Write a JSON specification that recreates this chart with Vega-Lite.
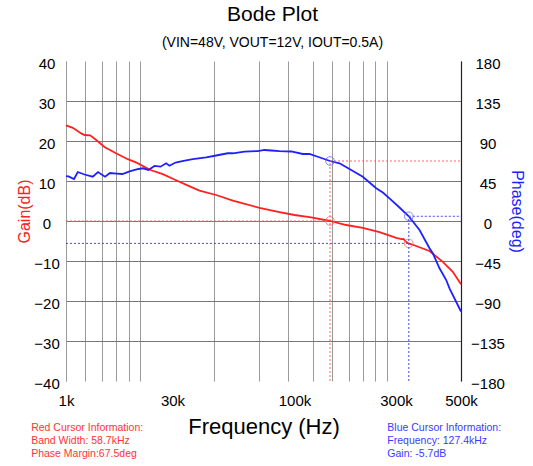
{
  "$schema": "https://vega.github.io/schema/vega-lite/v6.json",
  "width": 395,
  "height": 320,
  "autosize": {"type": "none"},
  "padding": {"left": 66, "top": 61, "right": 72, "bottom": 85},
  "background": "white",
  "config": {"font": "Liberation Sans", "view": {"stroke": null}},
  "title": {
    "text": "Bode Plot",
    "subtitle": "(VIN=48V, VOUT=12V, IOUT=0.5A)",
    "fontSize": 21,
    "fontWeight": "normal",
    "color": "#000",
    "subtitleFontSize": 14,
    "subtitleColor": "#000",
    "subtitlePadding": 11,
    "offset": 7,
    "dx": 9
  },
  "datasets": {
    "gain": [
      {"f": 1000, "gain": 23.9}, {"f": 1113, "gain": 23.3}, {"f": 1270, "gain": 21.9},
      {"f": 1338, "gain": 21.5}, {"f": 1463, "gain": 21.4}, {"f": 1608, "gain": 20.25},
      {"f": 1832, "gain": 18.5}, {"f": 2179, "gain": 17.0}, {"f": 2644, "gain": 15.45},
      {"f": 3032, "gain": 14.6}, {"f": 3779, "gain": 12.75}, {"f": 4585, "gain": 11.7},
      {"f": 5600, "gain": 10.25}, {"f": 6764, "gain": 8.9}, {"f": 8170, "gain": 7.6},
      {"f": 10624, "gain": 6.5}, {"f": 13796, "gain": 5.1}, {"f": 20990, "gain": 3.3},
      {"f": 28760, "gain": 2.2}, {"f": 36410, "gain": 1.5}, {"f": 47360, "gain": 0.9},
      {"f": 63670, "gain": 0.0}, {"f": 82140, "gain": -1.0}, {"f": 106660, "gain": -1.7},
      {"f": 138700, "gain": -2.8}, {"f": 180400, "gain": -4.2}, {"f": 196100, "gain": -4.55},
      {"f": 202300, "gain": -4.5}, {"f": 208800, "gain": -5.1}, {"f": 219900, "gain": -5.6},
      {"f": 247100, "gain": -6.25}, {"f": 304600, "gain": -7.5}, {"f": 375500, "gain": -10.2},
      {"f": 439500, "gain": -12.7}, {"f": 500000, "gain": -15.8}
    ],
    "phase": [
      {"f": 1000, "phase": 50.6}, {"f": 1040, "phase": 50.1}, {"f": 1134, "phase": 47.2},
      {"f": 1204, "phase": 55.1}, {"f": 1338, "phase": 52.3}, {"f": 1524, "phase": 49.8},
      {"f": 1654, "phase": 55.1}, {"f": 1847, "phase": 49.8}, {"f": 1998, "phase": 54.0},
      {"f": 2213, "phase": 53.4}, {"f": 2432, "phase": 52.9}, {"f": 2716, "phase": 55.9},
      {"f": 3129, "phase": 58.5}, {"f": 3358, "phase": 59.3}, {"f": 3662, "phase": 57.4},
      {"f": 4024, "phase": 61.9}, {"f": 4423, "phase": 61.1}, {"f": 4838, "phase": 64.9},
      {"f": 5096, "phase": 62.2}, {"f": 5600, "phase": 65.8}, {"f": 6351, "phase": 67.7},
      {"f": 7352, "phase": 69.5}, {"f": 9077, "phase": 71.7}, {"f": 10624, "phase": 73.7},
      {"f": 12752, "phase": 76.2}, {"f": 13796, "phase": 76.2}, {"f": 16584, "phase": 78.0},
      {"f": 20440, "phase": 78.7}, {"f": 22710, "phase": 79.9}, {"f": 25360, "phase": 79.3},
      {"f": 28760, "phase": 78.7}, {"f": 34570, "phase": 78.2}, {"f": 41500, "phase": 75.4},
      {"f": 46100, "phase": 75.4}, {"f": 52520, "phase": 72.3}, {"f": 63670, "phase": 67.5},
      {"f": 73930, "phase": 64.9}, {"f": 86510, "phase": 58.5}, {"f": 106660, "phase": 49.8},
      {"f": 131680, "phase": 36.8}, {"f": 146100, "phase": 32.1}, {"f": 162300, "phase": 25.5},
      {"f": 190000, "phase": 15.2}, {"f": 219900, "phase": 5.3}, {"f": 260400, "phase": -10.1},
      {"f": 304600, "phase": -30.7}, {"f": 320800, "phase": -36.3}, {"f": 356600, "phase": -53.2},
      {"f": 396200, "phase": -66.4}, {"f": 417200, "phase": -75.7}, {"f": 500000, "phase": -101.8}
    ],
    "cursors": [
      {"name": "red", "f": 63670, "gain": 0, "phase": 67.5,
       "info": ["Red Cursor Information:", "Band Width: 58.7kHz", "Phase Margin:67.5deg"]},
      {"name": "blue", "f": 219900, "gain": -5.6, "phase": 5.3,
       "info": ["Blue Cursor Information:", "Frequency: 127.4kHz", "Gain: -5.7dB"]}
    ],
    "gainCursorLines": [
      {"seg": "redG", "c": "red", "f": 1000, "gain": 0},
      {"seg": "redG", "c": "red", "f": 63670, "gain": 0},
      {"seg": "blueG", "c": "blue", "f": 1000, "gain": -5.6},
      {"seg": "blueG", "c": "blue", "f": 219900, "gain": -5.6}
    ],
    "phaseCursorLines": [
      {"seg": "redV", "c": "red", "f": 63670, "phase": -180},
      {"seg": "redV", "c": "red", "f": 63670, "phase": 67.5},
      {"seg": "redH", "c": "red", "f": 63670, "phase": 67.5},
      {"seg": "redH", "c": "red", "f": 500000, "phase": 67.5},
      {"seg": "blueV", "c": "blue", "f": 219900, "phase": -180},
      {"seg": "blueV", "c": "blue", "f": 219900, "phase": 5.3},
      {"seg": "blueH", "c": "blue", "f": 219900, "phase": 5.3},
      {"seg": "blueH", "c": "blue", "f": 500000, "phase": 5.3}
    ]
  },
  "layer": [
    {
      "layer": [
        {
          "data": {"name": "gain"},
          "mark": {"type": "line", "color": "#ff2020", "strokeWidth": 1.8},
          "encoding": {
            "x": {
              "field": "f", "type": "quantitative",
              "scale": {"type": "log", "domain": [1000, 500000], "nice": false},
              "axis": {
                "title": "Frequency (Hz)", "titleFontSize": 22, "titleFontWeight": "normal",
                "titleColor": "#000", "titlePadding": 8,
                "values": [1000, 1359, 1767, 2203, 2686, 3214, 5342, 10343, 20670, 32770, 36410, 48570, 65900, 85170, 106660, 130200, 155600, 179800, 500000],
                "tickCount": 40,
                "labelExpr": "datum.value < 1100 ? '1k' : (datum.value > 5000 && datum.value < 6000) ? '30k' : (datum.value > 36000 && datum.value < 37000) ? '100k' : (datum.value > 170000 && datum.value < 190000) ? '300k' : datum.value > 400000 ? '500k' : ''",
                "labelFontSize": 15, "labelColor": "#000", "labelPadding": 12,
                "labelFlush": false, "labelOverlap": false,
                "ticks": false, "domain": false,
                "grid": true, "gridColor": "#9a9a9a", "gridWidth": 1,
                "gridOpacity": {"condition": {"test": "(datum.value > 5000 && datum.value < 6000) || (datum.value > 36000 && datum.value < 37000) || (datum.value > 170000 && datum.value < 190000)", "value": 0}, "value": 1}
              }
            },
            "y": {
              "field": "gain", "type": "quantitative",
              "scale": {"domain": [-40, 40], "nice": false, "zero": false},
              "axis": {
                "title": "Gain(dB)", "titleColor": "#ff2020", "titleFontSize": 16,
                "titleFontWeight": "normal", "titleY": 150, "titlePadding": 1,
                "values": [-40, -30, -20, -10, 0, 10, 20, 30, 40],
                "tickCount": 40,
                "labelFontSize": 15, "labelColor": "#000", "labelAlign": "center",
                "labelPadding": 19.5, "labelOffset": 2.5, "labelOverlap": false,
                "ticks": false,
                "domain": true, "domainColor": "#9a9a9a",
                "grid": true, "gridColor": "#777", "gridWidth": 1,
                "gridOpacity": {"condition": {"test": "abs(datum.value) > 35", "value": 0}, "value": 1}
              }
            }
          }
        },
        {
          "data": {"name": "gainCursorLines"},
          "transform": [{"filter": "datum.c == 'red'"}],
          "mark": {"type": "line", "strokeDash": [2, 2], "strokeWidth": 1, "color": "#ff5a5a", "opacity": 0.9},
          "encoding": {
            "x": {"field": "f", "type": "quantitative", "scale": {"type": "log", "domain": [1000, 500000], "nice": false}},
            "y": {"field": "gain", "type": "quantitative", "scale": {"domain": [-40, 40], "nice": false, "zero": false}}
          }
        },
        {
          "data": {"name": "gainCursorLines"},
          "transform": [{"filter": "datum.c == 'blue'"}],
          "mark": {"type": "line", "strokeDash": [2, 2], "strokeWidth": 1, "color": "#4848ff", "opacity": 1},
          "encoding": {
            "x": {"field": "f", "type": "quantitative", "scale": {"type": "log", "domain": [1000, 500000], "nice": false}},
            "y": {"field": "gain", "type": "quantitative", "scale": {"domain": [-40, 40], "nice": false, "zero": false}}
          }
        },
        {
          "data": {"name": "cursors"},
          "mark": {"type": "point", "shape": "circle", "size": 75, "filled": false, "color": "#ff6a6a", "strokeWidth": 1, "opacity": 0.8},
          "encoding": {
            "x": {"field": "f", "type": "quantitative", "scale": {"type": "log", "domain": [1000, 500000], "nice": false}},
            "y": {"field": "gain", "type": "quantitative", "scale": {"domain": [-40, 40], "nice": false, "zero": false}}
          }
        },
        {
          "data": {"name": "cursors"},
          "transform": [{"filter": "datum.name == 'red'"}],
          "mark": {"type": "text", "align": "left", "baseline": "alphabetic", "fontSize": 10.5, "lineHeight": 12.8, "color": "#ff3333"},
          "encoding": {
            "x": {"datum": 578, "type": "quantitative", "scale": {"type": "log", "domain": [1000, 500000], "nice": false}},
            "y": {"datum": -52.6, "type": "quantitative", "scale": {"domain": [-40, 40], "nice": false, "zero": false}},
            "text": {"field": "info", "type": "nominal"}
          }
        },
        {
          "data": {"name": "cursors"},
          "transform": [{"filter": "datum.name == 'blue'"}],
          "mark": {"type": "text", "align": "left", "baseline": "alphabetic", "fontSize": 10.5, "lineHeight": 12.8, "color": "#3a3aff"},
          "encoding": {
            "x": {"datum": 156800, "type": "quantitative", "scale": {"type": "log", "domain": [1000, 500000], "nice": false}},
            "y": {"datum": -52.6, "type": "quantitative", "scale": {"domain": [-40, 40], "nice": false, "zero": false}},
            "text": {"field": "info", "type": "nominal"}
          }
        }
      ]
    },
    {
      "layer": [
        {
          "data": {"name": "phase"},
          "mark": {"type": "line", "color": "#2020ff", "strokeWidth": 1.8},
          "encoding": {
            "x": {"field": "f", "type": "quantitative", "scale": {"type": "log", "domain": [1000, 500000], "nice": false}},
            "y": {
              "field": "phase", "type": "quantitative",
              "scale": {"domain": [-180, 180], "nice": false, "zero": false},
              "axis": {
                "orient": "right",
                "title": "Phase(deg)", "titleColor": "#2020ff", "titleFontSize": 16,
                "titleFontWeight": "normal", "titleY": 150, "titlePadding": 4,
                "values": [-180, -135, -90, -45, 0, 45, 90, 135, 180],
                "tickCount": 40,
                "labelFontSize": 15, "labelColor": "#000", "labelAlign": "center",
                "labelPadding": 26.5, "labelOffset": 2.5, "labelOverlap": false,
                "ticks": false,
                "domain": true, "domainColor": "#222", "domainWidth": 1.2,
                "grid": false
              }
            }
          }
        },
        {
          "data": {"name": "phaseCursorLines"},
          "transform": [{"filter": "datum.c == 'red'"}],
          "mark": {"type": "line", "strokeDash": [2, 2], "strokeWidth": 1, "color": "#ff5a5a", "opacity": 0.9},
          "encoding": {
            "x": {"field": "f", "type": "quantitative", "scale": {"type": "log", "domain": [1000, 500000], "nice": false}},
            "y": {"field": "phase", "type": "quantitative", "scale": {"domain": [-180, 180], "nice": false, "zero": false}},
            "detail": {"field": "seg", "type": "nominal"}
          }
        },
        {
          "data": {"name": "phaseCursorLines"},
          "transform": [{"filter": "datum.c == 'blue'"}],
          "mark": {"type": "line", "strokeDash": [2, 2], "strokeWidth": 1, "color": "#4848ff", "opacity": 1},
          "encoding": {
            "x": {"field": "f", "type": "quantitative", "scale": {"type": "log", "domain": [1000, 500000], "nice": false}},
            "y": {"field": "phase", "type": "quantitative", "scale": {"domain": [-180, 180], "nice": false, "zero": false}},
            "detail": {"field": "seg", "type": "nominal"}
          }
        },
        {
          "data": {"name": "cursors"},
          "mark": {"type": "point", "shape": "circle", "size": 75, "filled": false, "color": "#6a6aff", "strokeWidth": 1, "opacity": 0.8},
          "encoding": {
            "x": {"field": "f", "type": "quantitative", "scale": {"type": "log", "domain": [1000, 500000], "nice": false}},
            "y": {"field": "phase", "type": "quantitative", "scale": {"domain": [-180, 180], "nice": false, "zero": false}}
          }
        }
      ]
    }
  ],
  "resolve": {"scale": {"y": "independent"}}
}
